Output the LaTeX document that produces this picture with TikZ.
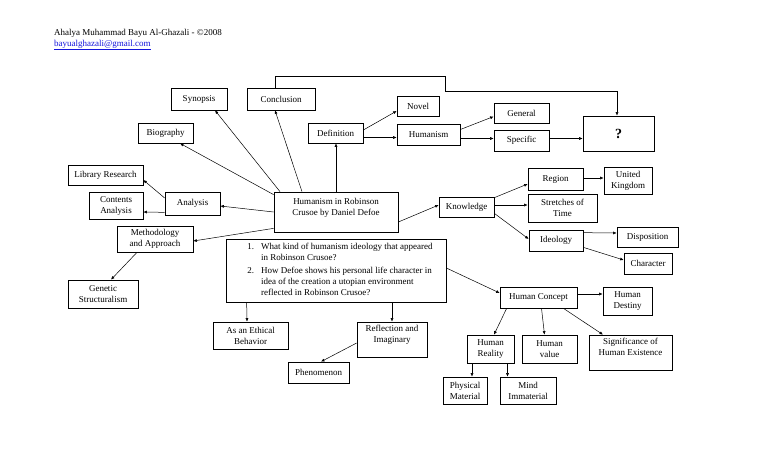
\documentclass[tikz,border=0pt]{standalone}
\usepackage{fontspec}
\setmainfont{Liberation Serif}
\usetikzlibrary{arrows.meta,calc}
\definecolor{mailblue}{RGB}{20,20,220}
\begin{document}
\begin{tikzpicture}[x=1pt,y=-1pt,
  box/.style={draw, line width=0.7pt, inner sep=1pt, align=center, font=\fontsize{9}{11}\selectfont},
  arr/.style={line width=0.5pt, -{Latex[length=3.5pt,width=3pt]}},
  hdr/.style={anchor=base west, inner sep=0pt, font=\fontsize{9}{11}\selectfont}]
\useasboundingbox[fill=white] (0,0) rectangle (768,466);

% header
\node[hdr] (author) at (54,35) {Ahalya Muhammad Bayu Al-Ghazali - \textcopyright2008};
\node[hdr] (mail) at (54,46) {\color{mailblue}\underline{bayualghazali@gmail.com}};

% nodes
\node[box, minimum width=56, minimum height=22] (syn) at (199,99) {Synopsis};
\node[box, minimum width=68, minimum height=22] (concl) at (281,99) {Conclusion};
\node[box, minimum width=55, minimum height=20] (bio) at (165.5,133) {Biography};
\node[box, minimum width=55, minimum height=20] (def) at (335.5,133) {Definition};
\node[box, minimum width=42, minimum height=20] (novel) at (418,106) {Novel};
\node[box, minimum width=63, minimum height=21] (hum) at (428.5,134.5) {Humanism};
\node[box, minimum width=55, minimum height=20] (gen) at (521.5,113) {General};
\node[box, minimum width=55, minimum height=21] (spec) at (521.5,140.5) {Specific};
\node[box, minimum width=71, minimum height=35, font=\fontsize{14}{16}\selectfont\bfseries] (q) at (618.5,133.5) {?};
\node[box, minimum width=75, minimum height=20] (lib) at (105.5,175) {Library Research};
\node[box, minimum width=54, minimum height=27] (cont) at (116,205.5) {Contents\\Analysis};
\node[box, minimum width=55, minimum height=23] (ana) at (192.5,203.5) {Analysis};
\node[box, minimum width=124, minimum height=40] (main) at (336,212) {Humanism in Robinson\\Crusoe by Daniel Defoe\\\mbox{}};
\node[box, minimum width=76, minimum height=26] (meth) at (155,239) {Methodology\\and Approach};
\node[box, minimum width=70, minimum height=28] (genst) at (103,294) {Genetic\\Structuralism};
\node[box, minimum width=220, minimum height=63] (ques) at (336,270.5)
  {\hspace*{8pt}\begin{tabular}{@{}r@{\hspace{7pt}}l@{}}
   1. & What kind of humanism ideology that appeared\\
      & in Robinson Crusoe?\\[2pt]
   2. & How Defoe shows his personal life character in\\
      & idea of the creation a utopian environment\\
      & reflected in Robinson Crusoe?
   \end{tabular}};
\node[box, minimum width=75, minimum height=27] (eth) at (250.5,335.5) {As an Ethical\\Behavior};
\node[box, minimum width=70, minimum height=35] (refl) at (392,339.5) {Reflection and\\Imaginary\\\mbox{}};
\node[box, minimum width=61, minimum height=21] (phen) at (318.5,372.5) {Phenomenon};
\node[box, minimum width=55, minimum height=20] (know) at (466.5,207) {Knowledge};
\node[box, minimum width=55, minimum height=22] (reg) at (555.5,179) {Region};
\node[box, minimum width=48, minimum height=27] (uk) at (628,180.5) {United\\Kingdom};
\node[box, minimum width=69, minimum height=28] (stretch) at (562.5,208) {Stretches of\\Time};
\node[box, minimum width=54, minimum height=21] (ideo) at (556,240.5) {Ideology};
\node[box, minimum width=61, minimum height=20] (disp) at (647.5,237) {Disposition};
\node[box, minimum width=48, minimum height=21] (char) at (648,263.5) {Character};
\node[box, minimum width=77, minimum height=21] (hc) at (538.5,297.5) {Human Concept};
\node[box, minimum width=49, minimum height=28] (hd) at (627.5,301) {Human\\Destiny};
\node[box, minimum width=47, minimum height=28] (hr) at (490.5,349) {Human\\Reality};
\node[box, minimum width=55, minimum height=28] (hv) at (549.5,349) {Human\\value};
\node[box, minimum width=83, minimum height=35] (sig) at (630.5,352.5) {Significance of\\Human Existence\\\mbox{}};
\node[box, minimum width=44, minimum height=27] (phys) at (465,390.5) {Physical\\Material};
\node[box, minimum width=56, minimum height=27] (mind) at (528,390.5) {Mind\\Immaterial};

% connectors
\draw[arr] ($(main.north)+(-56,0)$) -- ($(syn.south)+(16,0)$);
\draw[arr] ($(main.north)+(-34,0)$) -- ($(concl.south)+(-6,0)$);
\draw[arr] ($(main.north west)+(0,3)$) -- ($(bio.south)+(14.5,0)$);
\draw[arr] (main.north) -- (main.north |- def.south);
\draw[arr] (main.west) -- ($(ana.east)+(0,2.5)$);
\draw[arr] ($(main.south west)+(0,-4)$) -- ($(meth.east)+(0,2)$);
\draw[arr] ($(ana.west)+(0,-5.5)$) -- ($(lib.east)+(0,5)$);
\draw[arr] ($(ana.south west)+(0,-3)$) -- ($(cont.east)+(0,6.5)$);
\draw[arr] ($(meth.south)+(-18,0)$) -- ($(genst.north)+(8,0)$);
\draw[arr] ($(main.east)+(0,10)$) -- ($(know.west)+(0,-2)$);
\draw[arr] ($(know.north east)+(0,1)$) -- ($(reg.west)+(0,5)$);
\draw[arr] ($(know.east)+(0,-2)$) -- ($(stretch.west)+(0,-3)$);
\draw[arr] ($(know.south east)+(0,-4)$) -- ($(ideo.west)+(0,-1.5)$);
\draw[arr] ($(reg.east)+(0,-1)$) -- ($(uk.west)+(0,-2.5)$);
\draw[arr] ($(ideo.north east)+(0,3)$) -- ($(disp.west)+(0,-4)$);
\draw[arr] ($(ideo.south east)+(0,-4)$) -- ($(char.west)+(0,-3.5)$);
\draw[arr] ($(ques.east)+(0,-2.5)$) -- ($(hc.west)+(0,-4.5)$);
\draw[arr] ($(ques.south west)+(21,0)$) -- ($(eth.north)+(-3.5,0)$);
\draw[arr] (refl.north |- ques.south) -- (refl.north);
\draw[arr] ($(refl.west)+(0,3.5)$) -- ($(phen.north)+(2.5,0)$);
\draw[arr] ($(hc.east)+(0,-3.5)$) -- ($(hd.west)+(0,-7)$);
\draw[arr] ($(hc.south west)+(7,0)$) -- ($(hr.north)+(3.5,0)$);
\draw[arr] ($(hc.south)+(3,0)$) -- ($(hv.north)+(-5,0)$);
\draw[arr] ($(hc.south east)+(-14,0)$) -- ($(sig.north)+(-27.5,0)$);
\draw[arr] ($(hr.south)+(-18.5,0)$) -- ($(phys.north)+(7,0)$);
\draw[arr] ($(hr.south)+(17,0)$) -- ($(mind.north)+(-20.5,0)$);
\draw[arr] ($(def.east)+(0,-3)$) -- ($(novel.west)+(0,5)$);
\draw[arr] ($(def.east)+(0,4.5)$) -- ($(hum.west)+(0,3)$);
\draw[arr] ($(hum.east)+(0,-5)$) -- ($(gen.west)+(0,3.5)$);
\draw[arr] ($(hum.east)+(0,4)$) -- ($(spec.west)+(0,-2)$);
\draw[arr] ($(spec.east)+(0,-2)$) -- ($(q.west)+(0,5)$);
\draw[arr] ($(concl.north)+(-6,0)$) -- ++(0,-11) -| (445,91) -| ($(q.north)+(-1.5,0)$);
\end{tikzpicture}
\end{document}
